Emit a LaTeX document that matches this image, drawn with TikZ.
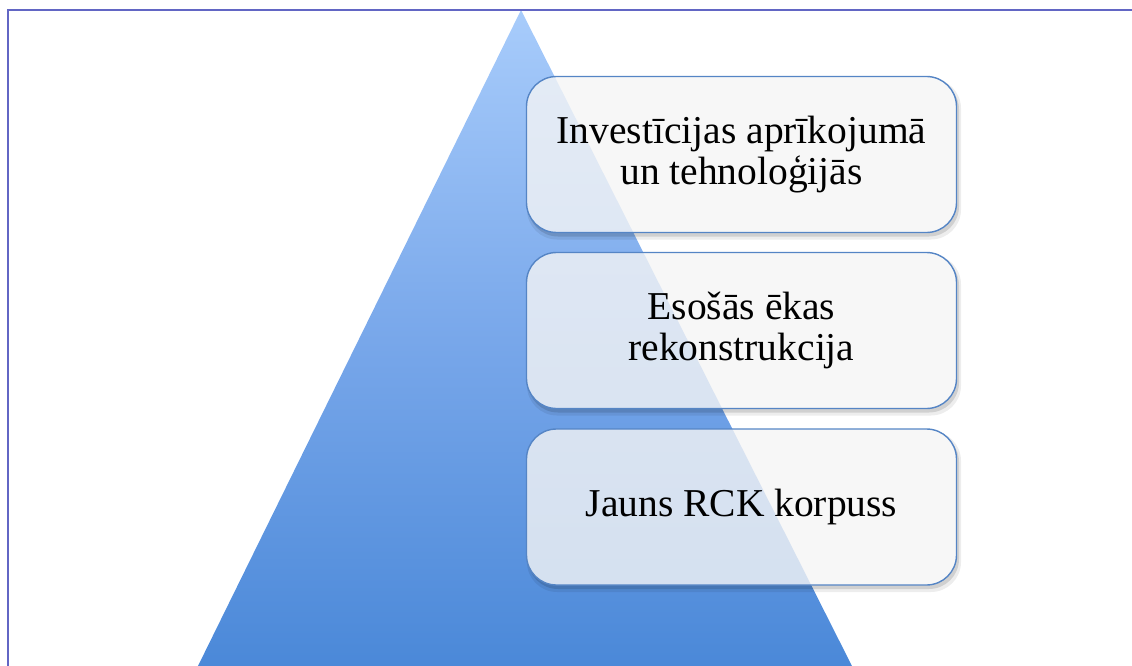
\documentclass[tikz,border=0pt]{standalone}
\usepackage{fontspec}
\setmainfont{Liberation Serif}
\definecolor{framec}{HTML}{6266C4}
\definecolor{tritop}{HTML}{A8CCFB}
\definecolor{trimid}{HTML}{78A7EA}
\definecolor{tribot}{HTML}{4A88D8}
\definecolor{boxline}{HTML}{5585C5}
\definecolor{boxfill}{HTML}{F5F5F5}
\tikzset{
  stepbox/.style={draw=boxline, line width=1.4pt, fill=boxfill, fill opacity=0.8, text opacity=1,
    rounded corners=30pt, minimum width=430pt, minimum height=156pt, align=center,
    font=\fontsize{39.5}{41}\selectfont, inner sep=0pt},
  boxshadow/.style={fill=black, opacity=0.12},
}
\newcommand{\shadowfor}[2]{%
  \begin{scope}[even odd rule, rounded corners=30pt]
    \clip (-100,-100) rectangle (1232,766) (526.5,#1) rectangle (956.5,#2);
    \fill[boxshadow] (528,#1+3) rectangle (959,#2+4);
    \fill[boxshadow, opacity=0.07] (527,#1+2) rectangle (961,#2+7);
  \end{scope}}
\begin{document}
\begin{tikzpicture}[x=1pt,y=-1pt]
\useasboundingbox (0,0) rectangle (1132,666);
\begin{scope}
\clip (0,0) rectangle (1132,666);
\shade[top color=tritop, bottom color=tribot, middle color=trimid] (521,10) -- (854,670) -- (196,670) -- cycle;
\draw[framec, line width=2.4pt] (1140,10) -- (8,10) -- (8,680);
\end{scope}
\shadowfor{76.5}{232.5}
\shadowfor{252.5}{408.5}
\shadowfor{429}{585}
\node[stepbox] (box1) at (741.5,154.5) {Investīcijas aprīkojumā\\un tehnoloģijās};
\node[stepbox] (box2) at (741.5,330.5) {Esošās ēkas\\rekonstrukcija};
\node[stepbox] (box3) at (741.5,507) {Jauns RCK korpuss};
\end{tikzpicture}
\end{document}
